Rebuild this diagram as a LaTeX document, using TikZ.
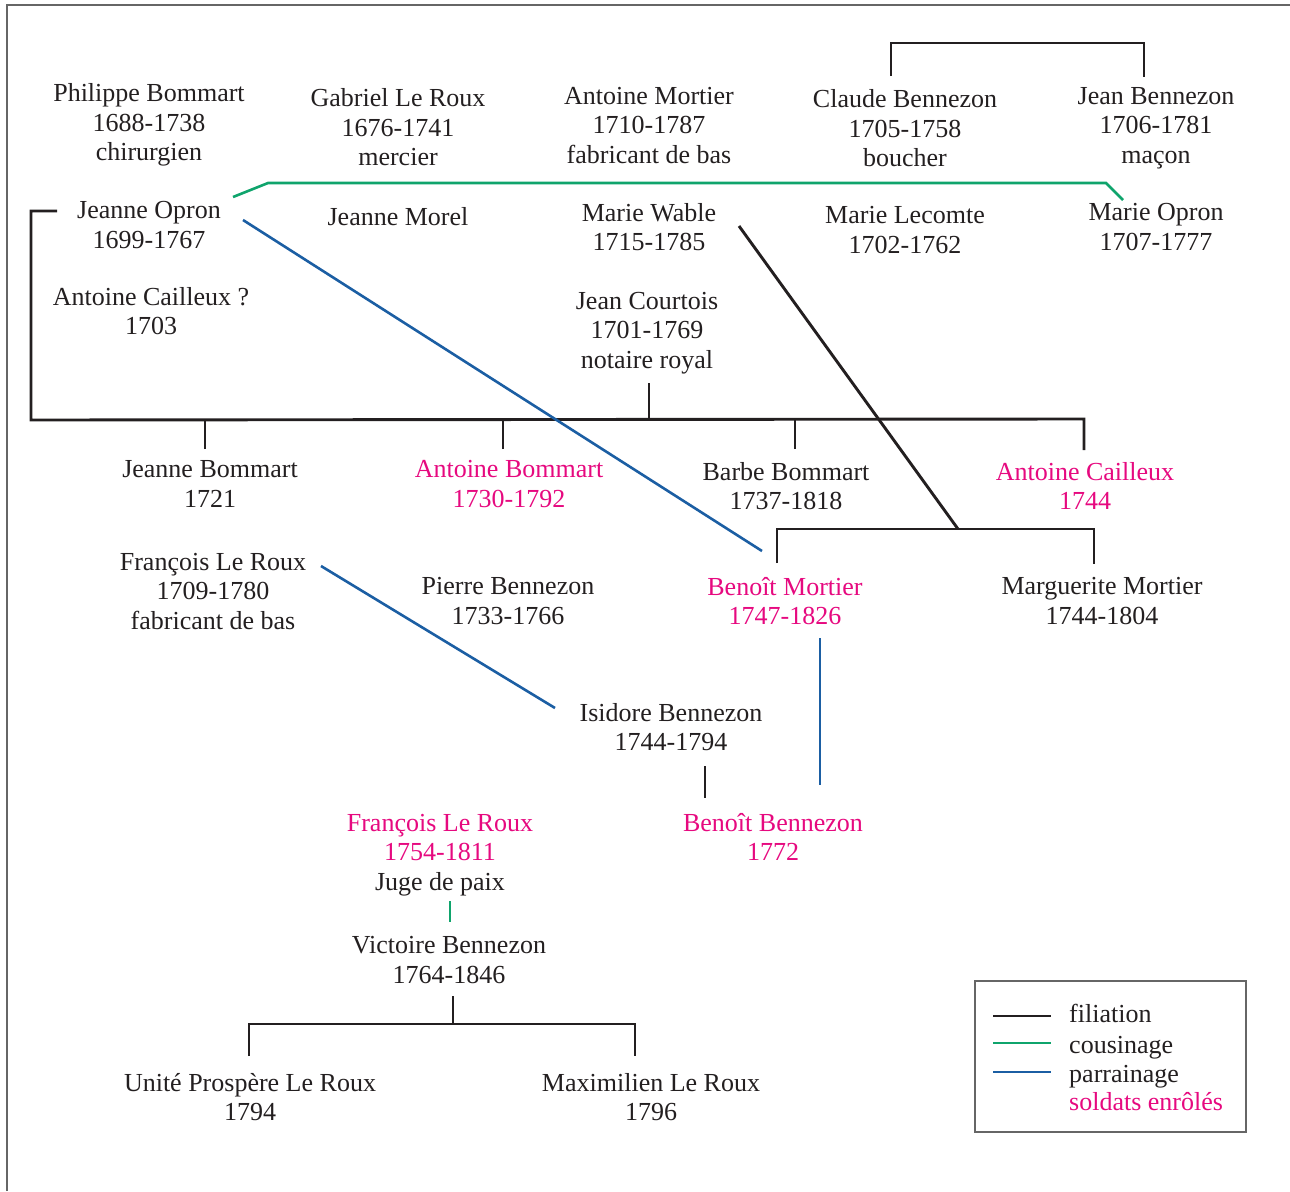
\documentclass[tikz,border=0pt]{standalone}
\usepackage{fontspec}
\setmainfont{Liberation Serif}
\definecolor{ink}{HTML}{231F20}
\definecolor{pinkc}{HTML}{E6097F}
\definecolor{greenc}{HTML}{0FA46C}
\definecolor{bluec}{HTML}{1B5EA3}
\definecolor{framec}{HTML}{666666}
\tikzset{
  person/.style={align=center, inner sep=0pt, text=ink, font=\fontsize{26}{29.5}\selectfont,
    execute at begin node=\strut, execute at end node=\strut, yshift=-4.5pt},
  soldier/.style={person, text=pinkc},
  fil/.style={draw=ink, line width=2.9pt},
  cous/.style={draw=greenc, line width=2.6pt},
  parr/.style={draw=bluec, line width=2.6pt},
  legtext/.style={inner sep=0pt, anchor=west, font=\fontsize{26}{29.5}\selectfont, text=ink,
    execute at begin node=\strut, yshift=-4.5pt}
}
\begin{document}
\begin{tikzpicture}[x=1pt,y=-1pt]
\useasboundingbox (0,0) rectangle (1290,1191);
% frame
\draw[framec, line width=1.6pt] (7,1191) -- (7,5) -- (1290,5);

% row 1
\node[person] (philippe) at (149,122) {Philippe Bommart\\1688-1738\\chirurgien};
\node[person] (gabriel) at (398,127) {Gabriel Le Roux\\1676-1741\\mercier};
\node[person] (amortier) at (649,125) {Antoine Mortier\\1710-1787\\fabricant de bas};
\node[person] (claude) at (905,128) {Claude Bennezon\\1705-1758\\boucher};
\node[person] (jean) at (1156,125) {Jean Bennezon\\1706-1781\\maçon};
% row 2
\node[person] (jopron) at (149,225) {Jeanne Opron\\1699-1767};
\node[person] (jmorel) at (398,215) {Jeanne Morel};
\node[person] (mwable) at (649,227) {Marie Wable\\1715-1785};
\node[person] (mlecomte) at (905,230) {Marie Lecomte\\1702-1762};
\node[person] (mopron) at (1156,227) {Marie Opron\\1707-1777};
% row 3
\node[person] (acailleuxp) at (151,311) {Antoine Cailleux ?\\1703};
\node[person] (courtois) at (647,330) {Jean Courtois\\1701-1769\\notaire royal};
% row 4
\node[person] (jbommart) at (210,484) {Jeanne Bommart\\1721};
\node[soldier] (abommart) at (509,484) {Antoine Bommart\\1730-1792};
\node[person] (bbommart) at (786,486) {Barbe Bommart\\1737-1818};
\node[soldier] (acailleux) at (1085,486) {Antoine Cailleux\\1744};
% row 5
\node[person] (fleroux) at (213,591) {François Le Roux\\1709-1780\\fabricant de bas};
\node[person] (pbennezon) at (508,601) {Pierre Bennezon\\1733-1766};
\node[soldier] (bmortier) at (785,601) {Benoît Mortier\\1747-1826};
\node[person] (mmortier) at (1102,601) {Marguerite Mortier\\1744-1804};
% row 6
\node[person] (isidore) at (671,727) {Isidore Bennezon\\1744-1794};
% row 7
\node[soldier] (flerouxb) at (440,852) {François Le Roux\\1754-1811\\\textcolor{ink}{Juge de paix}};
\node[soldier] (bbennezon) at (773,837) {Benoît Bennezon\\1772};
% row 8
\node[person] (victoire) at (449,960) {Victoire Bennezon\\1764-1846};
% row 9
\node[person] (unite) at (250,1097) {Unité Prospère Le Roux\\1794};
\node[person] (maximilien) at (651,1097) {Maximilien Le Roux\\1796};

% coordinates for connector ends
\coordinate (claudeTop) at (891,76);
\coordinate (jeanTop) at (1144,77);
\coordinate (jopronE) at (233,197);
\coordinate (mopronW) at (1123,200);
\coordinate (jopronW) at (57,211);
\coordinate (sibL) at (31,420);
\coordinate (sibR) at (1084,419);
\coordinate (courtoisB) at (649,383);
\coordinate (jbommartT) at (205,449);
\coordinate (abommartT) at (503,449);
\coordinate (bbommartT) at (795,449);
\coordinate (acailleuxT) at (1084,450);
\coordinate (jopronB) at (243,220);
\coordinate (bmortierNW) at (762,551);
\coordinate (mwableE) at (739,226);
\coordinate (mortierJ) at (958,529);
\coordinate (bmortierT) at (777,563);
\coordinate (mmortierT) at (1094,564);
\coordinate (flerouxE) at (321,566);
\coordinate (isidoreW) at (555,708);
\coordinate (bmortierB) at (820,638);
\coordinate (bbennezonT) at (820,785);
\coordinate (isidoreB) at (705,766);
\coordinate (bbennezonTL) at (705,798);
\coordinate (flerouxbB) at (450,901);
\coordinate (victoireT) at (450,922);
\coordinate (victoireB) at (453,996);
\coordinate (uniteT) at (249,1056);
\coordinate (maximilienT) at (635,1056);

% filiation
\draw[fil] (claudeTop) -- ++(0,-33) -| (jeanTop);
\draw[fil] (jopronW) -| (sibL) -- (sibR) -- (acailleuxT);
\draw[fil] (courtoisB) -- (649,419.5);
\draw[fil] (jbommartT) -- (205,419.8);
\draw[fil] (abommartT) -- (503,419.6);
\draw[fil] (bbommartT) -- (795,419.2);
\draw[fil] (mwableE) -- (mortierJ);
\draw[fil] (bmortierT) |- (mortierJ) -| (mmortierT);
\draw[fil] (isidoreB) -- (bbennezonTL);
\draw[fil] (victoireB) -- (453,1024);
\draw[fil] (uniteT) |- (453,1024) -| (maximilienT);
% cousinage
\draw[cous, line join=miter] (jopronE) -- (268,183) -- (1106,183) -- (mopronW);
\draw[cous] (flerouxbB) -- (victoireT);
% parrainage
\draw[parr] (jopronB) -- (bmortierNW);
\draw[parr] (flerouxE) -- (isidoreW);
\draw[parr] (bmortierB) -- (bbennezonT);

% legend
\node[draw=framec, line width=1.2pt, minimum width=271pt, minimum height=151pt, inner sep=0pt] (legend) at (1110.5,1056.5) {};
\coordinate (lf1) at (993,1016); \coordinate (lf2) at (1051,1016);
\coordinate (lc1) at (993,1043); \coordinate (lc2) at (1051,1043);
\coordinate (lp1) at (993,1072); \coordinate (lp2) at (1051,1072);
\draw[fil] (lf1) -- (lf2);
\draw[cous] (lc1) -- (lc2);
\draw[parr] (lp1) -- (lp2);
\node[legtext] (lgf) at (1069,1012) {filiation};
\node[legtext] (lgc) at (1069,1043) {cousinage};
\node[legtext] (lgp) at (1069,1072) {parrainage};
\node[legtext, text=pinkc] (lgs) at (1069,1100) {soldats enrôlés};
\end{tikzpicture}
\end{document}
